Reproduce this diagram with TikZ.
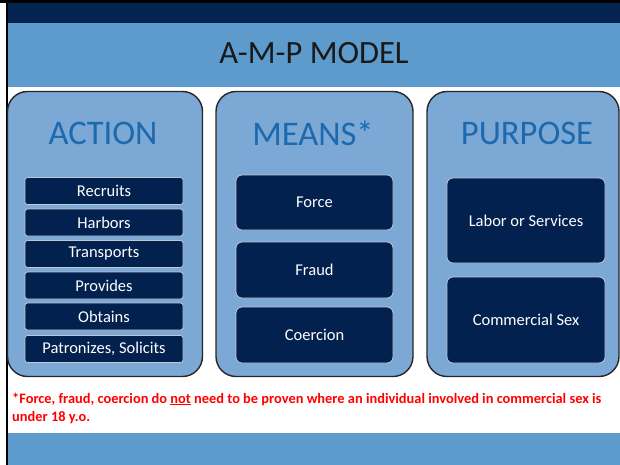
\documentclass[tikz,border=0pt]{standalone}
\usepackage{fontspec}
\setmainfont{Carlito}
\definecolor{topnavy}{HTML}{042350}
\definecolor{bandblue}{HTML}{5D9BCD}
\definecolor{panelblue}{HTML}{7CA8D5}
\definecolor{headblue}{HTML}{1D69AE}
\definecolor{itemnavy}{HTML}{03214F}
\definecolor{itemborder}{HTML}{BFC7D3}
\definecolor{notered}{HTML}{FF0000}
\begin{document}
\begin{tikzpicture}[x=1pt,y=-1pt,
  panel/.style={draw=black!85, line width=1.4pt, fill=panelblue, rounded corners=20pt, inner sep=0pt},
  heading/.style={text=headblue, font=\fontsize{34.5}{40}\selectfont, inner sep=0pt},
  item/.style={draw=itemborder, line width=0.8pt, fill=itemnavy, text=white, inner sep=0pt, font=\fontsize{16.5}{18}\selectfont},
  smallitem/.style={item, rounded corners=2.5pt, minimum width=158pt, minimum height=27pt},
  bigitem/.style={item, rounded corners=6pt, minimum width=157pt}
]
\useasboundingbox (0,0) rectangle (620,465);
\fill[white] (0,0) rectangle (620,465);
% header bands
\fill[bandblue] (7,23) rectangle (620,87);
\fill[topnavy] (7,3) rectangle (620,23);
\fill[bandblue] (7,433) rectangle (620,465);
\fill[black] (0,0) rectangle (620,3);
\fill[black] (5.5,0) rectangle (7.5,465);
\node[font=\fontsize{32.5}{38}\selectfont, text=black!90, inner sep=0pt] (title) at (314,53) {A-M-P MODEL};
% panels
\node[panel, minimum width=195pt, minimum height=285pt] (action) at (105,234) {};
\node[panel, minimum width=197pt, minimum height=285pt] (means) at (314.5,234) {};
\node[panel, minimum width=192pt, minimum height=285pt] (purpose) at (523,234) {};
\node[heading] (hact) at (103,133) {ACTION};
\node[heading] (hmea) at (313,133) {MEANS*};
\node[heading] (hpur) at (527,133) {PURPOSE};
% action items
\node[smallitem] (a1) at (104,191) {Recruits};
\node[smallitem] (a2) at (104,222.5) {Harbors};
\node[smallitem] (a3) at (104,254) {Transports};
\node[smallitem] (a4) at (104,285.5) {Provides};
\node[smallitem] (a5) at (104,316.5) {Obtains};
\node[smallitem] (a6) at (104,349) {Patronizes, Solicits};
% means items
\node[bigitem, minimum height=55pt] (m1) at (314.5,202.5) {Force};
\node[bigitem, minimum height=56pt] (m2) at (314.5,270) {Fraud};
\node[bigitem, minimum height=56pt] (m3) at (314.5,335) {Coercion};
% purpose items
\node[bigitem, minimum width=158pt, minimum height=85pt] (p1) at (526,220.5) {Labor or Services};
\node[bigitem, minimum width=158pt, minimum height=86pt] (p2) at (526,320) {Commercial Sex};
% footnote
\node[anchor=north west, text=notered, inner sep=0pt, align=left, font=\bfseries\fontsize{14.4}{18}\selectfont] (note) at (12,392.5)
 {*Force, fraud, coercion do \underline{not} need to be proven where an individual involved in commercial sex is\\under 18 y.o.};
\end{tikzpicture}
\end{document}
